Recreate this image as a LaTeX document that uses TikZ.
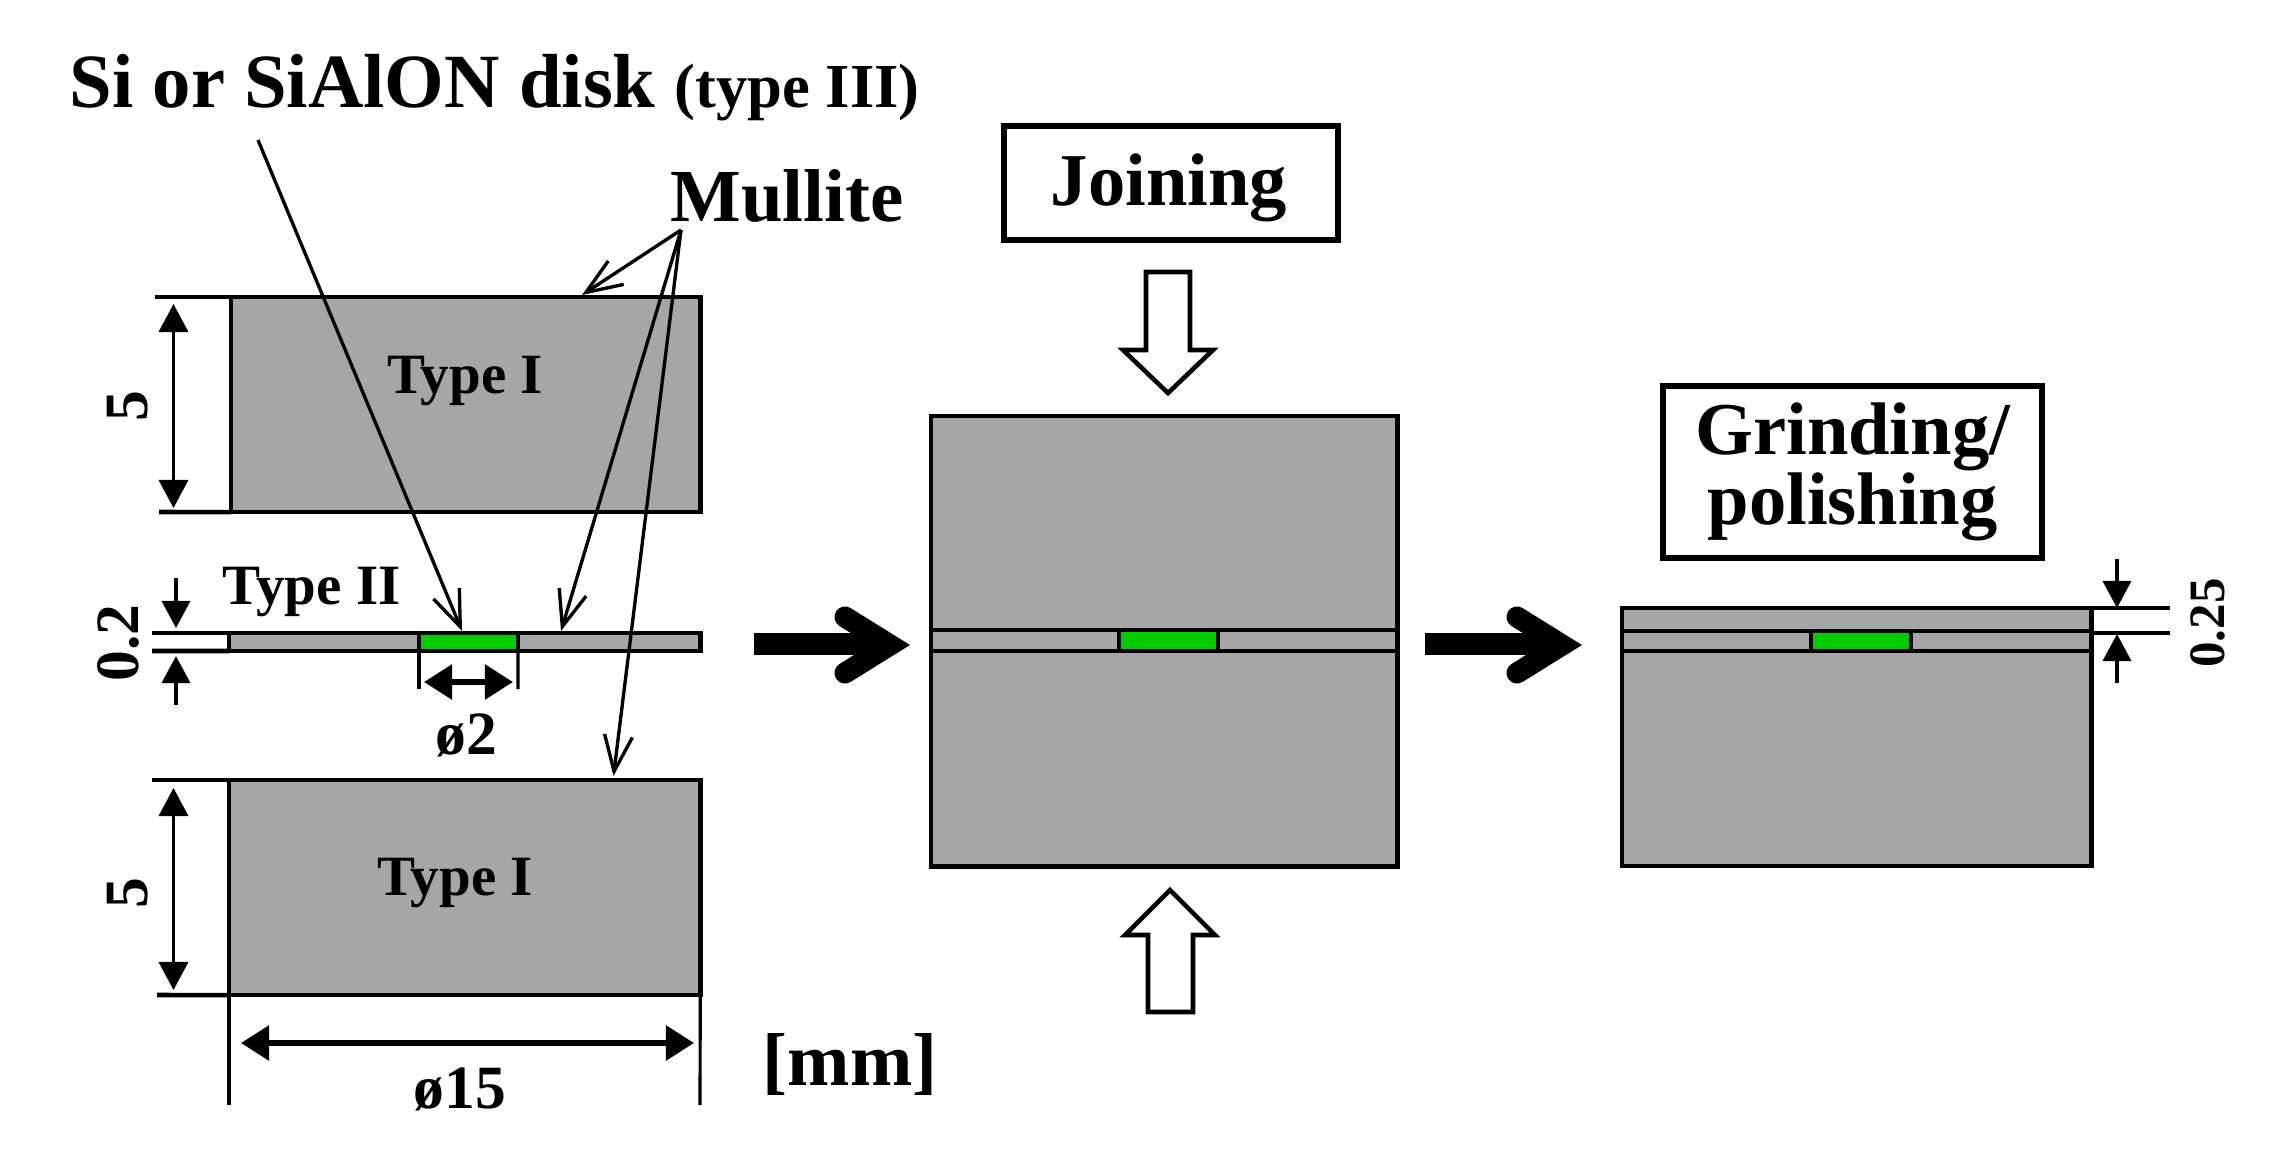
\documentclass[tikz,border=0pt]{standalone}
\usepackage{fontspec}
\setmainfont{Liberation Serif}
\usetikzlibrary{arrows.meta}
\definecolor{plategrey}{HTML}{A6A6A6}
\definecolor{diskgreen}{HTML}{00CC00}
\tikzset{
  x=0.01cm,y=-0.01cm,
  plate/.style={draw=black,line width=1.3pt,fill=plategrey,inner sep=0,outer sep=0,anchor=north west},
  disk/.style={draw=black,line width=1.3pt,fill=diskgreen,inner sep=0,outer sep=0,anchor=north west},
  sep/.style={line width=1.3pt},
  ext/.style={line width=1.3pt},
  thinext/.style={line width=0.9pt},
  dim/.style={line width=1pt,{Triangle[length=0.28cm,width=0.29cm]}-{Triangle[length=0.28cm,width=0.29cm]}},
  dimto/.style={line width=1pt,-{Triangle[length=0.27cm,width=0.28cm]}},
  dimbold/.style={line width=1.6pt,{Triangle[length=0.28cm,width=0.34cm]}-{Triangle[length=0.28cm,width=0.34cm]}},
  pointer/.style={line width=0.95pt,-{Straight Barb[length=0.36cm,width=0.28cm,line width=0.95pt]}},
  txtL/.style={font=\bfseries\fontsize{21.3}{25}\selectfont,inner sep=0},
  txtM/.style={font=\bfseries\fontsize{16.2}{18}\selectfont,inner sep=0},
  txtS/.style={font=\bfseries\fontsize{17.5}{20}\selectfont,inner sep=0},
  process/.style={draw=black,line width=1.7pt,fill=white,align=center,inner sep=0,outer sep=0,anchor=north west,font=\bfseries\fontsize{21.2}{20}\selectfont},
  hollow/.style={draw=black,line width=1.3pt,fill=white,miter limit=6},
  blackshaft/.style={fill=black,draw=none},
  blackhead/.style={draw=black,line width=6pt,line cap=round,line join=miter,miter limit=4},
}
\begin{document}
\begin{tikzpicture}
\useasboundingbox (0,0) rectangle (2269,1157);
% plates
\node[plate,minimum width=4.69cm,minimum height=2.15cm] (topA) at (231,297) {};
\node[plate,minimum width=4.71cm,minimum height=0.18cm] (midA) at (229,633) {};
\node[disk,minimum width=0.99cm,minimum height=0.18cm] (diskA) at (419,633) {};
\node[plate,minimum width=4.71cm,minimum height=2.15cm] (botA) at (229,780) {};
% joined stack
\node[plate,minimum width=4.66cm,minimum height=4.50cm] (joined) at (931,416) {};
\node[disk,minimum width=0.99cm,minimum height=0.21cm] (diskB) at (1119,630) {};
\draw[sep] (joined.west |- 0,630) -- (joined.east |- 0,630);
\draw[sep] (joined.west |- 0,651) -- (joined.east |- 0,651);
% ground stack
\node[plate,minimum width=4.69cm,minimum height=2.58cm] (ground) at (1622,608) {};
\node[disk,minimum width=1.00cm,minimum height=0.20cm] (diskC) at (1811,631) {};
\draw[sep] (ground.west |- 0,631) -- (ground.east |- 0,631);
\draw[sep] (ground.west |- 0,651) -- (ground.east |- 0,651);
% labels inside
\node[txtM] (typeA) at (465,381) {Type I};
\node[txtM] (typeB) at (455,883) {Type I};
\node[txtM,anchor=base west] (typeC) at (222,604) {Type II};
% headline labels
\node[anchor=base west,inner sep=0] (silabel) at (69,107) {\bfseries\fontsize{21.8}{25}\selectfont Si or SiAlON disk \fontsize{17.8}{25}\selectfont(type III)};
\node[txtL,anchor=base] (mullite) at (787,221) {Mullite};
\node[txtL,anchor=base] (mm) at (850,1085) {[mm]};
% process boxes
\node[process,minimum width=3.34cm,minimum height=1.14cm] (joinbox) at (1004,126) {};
\node[process,draw=none,fill=none,anchor=base] (jointext) at (1169,205) {Joining};
\node[process,minimum width=3.79cm,minimum height=1.72cm] (grindbox) at (1663,386) {Grinding/\\polishing};
% pointers
\coordinate (si0) at (258,140); \coordinate (si1) at (462,631);
\coordinate (mu0) at (681,230); \coordinate (mu1) at (582,295);
\coordinate (mu2) at (561,631); \coordinate (mu3) at (613.5,776);
\draw[pointer] (si0) -- (si1);
\draw[pointer] (mu0) -- (mu1);
\draw[pointer] (mu0) -- (mu2);
\draw[pointer] (mu0) -- (mu3);
% top plate dimension
\coordinate (e1a) at (155,297); \coordinate (e1b) at (159,512);
\draw[ext] (e1a) -- (topA.north west);
\draw[ext] (e1b) -- (topA.south west);
\coordinate (d1a) at (173.5,304); \coordinate (d1b) at (173.5,508);
\draw[dim] (d1a) -- (d1b);
\node[txtS,rotate=90] (five1) at (128,406) {5};
% thin plate dimension
\coordinate (e2a) at (152,633); \coordinate (e2b) at (152,651);
\draw[ext] (e2a) -- (midA.north west);
\draw[ext] (e2b) -- (midA.south west);
\coordinate (d2a) at (176,578); \coordinate (d2b) at (176,628);
\coordinate (d2c) at (176,705); \coordinate (d2d) at (176,656);
\draw[dimto] (d2a) -- (d2b);
\draw[dimto] (d2c) -- (d2d);
\node[txtS,rotate=90] (ptwo) at (118,643) {0.2};
% disk dimension
\coordinate (e3a) at (419,689); \coordinate (e3b) at (518,689);
\draw[thinext] (diskA.south west) -- (e3a);
\draw[thinext] (diskA.south east) -- (e3b);
\coordinate (d3a) at (424,682); \coordinate (d3b) at (513,682);
\draw[dimbold] (d3a) -- (d3b);
\node[txtS] (dia2) at (466,735) {ø2};
% bottom plate dimensions
\coordinate (e4a) at (152,780); \coordinate (e4b) at (157,995);
\draw[ext] (e4a) -- (botA.north west);
\draw[ext] (e4b) -- (botA.south west);
\coordinate (d4a) at (173.5,788); \coordinate (d4b) at (173.5,990);
\draw[dim] (d4a) -- (d4b);
\node[txtS,rotate=90] (five2) at (128,893) {5};
\coordinate (e5a) at (229,1105); \coordinate (e5b) at (700,1105);
\draw[thinext] (botA.south west) -- (e5a);
\draw[thinext] (botA.south east) -- (e5b);
\coordinate (d5a) at (241,1043); \coordinate (d5b) at (694,1043);
\draw[dimbold] (d5a) -- (d5b);
\node[txtS] (dia15) at (460,1089) {ø15};
% polished thickness
\coordinate (e6a) at (2170,608); \coordinate (e6b) at (2170,633);
\draw[ext] (ground.north east) -- (e6a);
\draw[ext] (ground.east |- e6b) -- (e6b);
\coordinate (d6a) at (2117,559); \coordinate (d6b) at (2117,608);
\coordinate (d6c) at (2117,683); \coordinate (d6d) at (2117,634);
\draw[dimto] (d6a) -- (d6b);
\draw[dimto] (d6c) -- (d6d);
\node[txtS,font=\bfseries\fontsize{14.5}{16}\selectfont,rotate=90] (ptwofive) at (2208,623) {0.25};
% hollow press arrows
\draw[hollow] (1146,272) -- (1190,272) -- (1190,350) -- (1213,350) -- (1168,393) -- (1123,350) -- (1146,350) -- cycle;
\draw[hollow] (1148,1012) -- (1193,1012) -- (1193,935) -- (1215,935) -- (1170,890) -- (1125,935) -- (1148,935) -- cycle;
% black process arrows
\fill[blackshaft] (754,633) rectangle (885,655);
\draw[blackhead] (845,617) -- (890,645) -- (845,673);
\fill[blackshaft] (1425,633) rectangle (1555,655);
\draw[blackhead] (1517,617) -- (1562,645) -- (1517,673);
\end{tikzpicture}
\end{document}
